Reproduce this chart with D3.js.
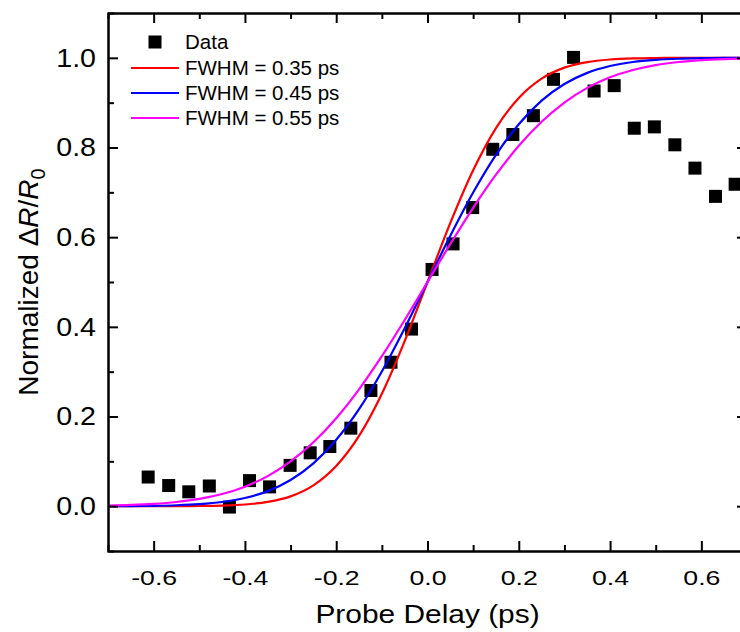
<!DOCTYPE html>
<html>
<head>
<meta charset="utf-8">
<script src="https://cdn.jsdelivr.net/npm/d3@7"></script>
<style>
  body { margin: 0; background: #fff; }
  svg { display: block; font-family: "Liberation Sans", Arial, sans-serif; }
</style>
</head>
<body>
<svg id="chart" width="740" height="632"></svg>
<script>
// measured data points (probe delay in ps, normalized dR/R0)
const delay = [-0.612, -0.567, -0.523, -0.478, -0.434, -0.390, -0.346, -0.301, -0.257, -0.214,
  -0.168, -0.124, -0.080, -0.035, 0.010, 0.056, 0.099, 0.143, 0.187, 0.232,
  0.276, 0.320, 0.365, 0.409, 0.453, 0.497, 0.542, 0.586, 0.631, 0.674];
const signal = [0.065, 0.046, 0.032, 0.045, -0.002, 0.057, 0.043, 0.091, 0.119, 0.133,
  0.174, 0.258, 0.321, 0.395, 0.528, 0.585, 0.666, 0.796, 0.829, 0.871,
  0.952, 1.001, 0.926, 0.938, 0.843, 0.846, 0.806, 0.754, 0.691, 0.718];

// fit curves read at a 0.05 ps spacing
const fitDelay = [-0.70, -0.65, -0.60, -0.55, -0.50, -0.45, -0.40, -0.35, -0.30, -0.25,
  -0.20, -0.15, -0.10, -0.05, 0.00, 0.05, 0.10, 0.15, 0.20, 0.25,
  0.30, 0.35, 0.40, 0.45, 0.50, 0.55, 0.60, 0.65, 0.70];
const fwhm035 = [0, 0, 0, 0.0001, 0.0004, 0.0012, 0.0037, 0.0095, 0.0218, 0.0464,
  0.0895, 0.1566, 0.2508, 0.3683, 0.5, 0.6317, 0.7492, 0.8434, 0.9105, 0.9536,
  0.9782, 0.9905, 0.9963, 0.9988, 0.9996, 0.9999, 1, 1, 1];
const fwhm045 = [0.0001, 0.0003, 0.0008, 0.0020, 0.0045, 0.0093, 0.0182, 0.0336, 0.0584, 0.0955,
  0.1480, 0.2164, 0.3005, 0.3969, 0.5, 0.6031, 0.6995, 0.7836, 0.8520, 0.9045,
  0.9416, 0.9664, 0.9818, 0.9907, 0.9955, 0.9980, 0.9992, 0.9997, 0.9999];
const fwhm055 = [0.0014, 0.0027, 0.0051, 0.0093, 0.0162, 0.0271, 0.0435, 0.0670, 0.0997, 0.1425,
  0.1962, 0.2607, 0.3345, 0.4153, 0.5, 0.5847, 0.6655, 0.7393, 0.8038, 0.8575,
  0.9003, 0.9330, 0.9565, 0.9729, 0.9838, 0.9907, 0.9949, 0.9973, 0.9986];

const seriesNames = ['FWHM = 0.35 ps', 'FWHM = 0.45 ps', 'FWHM = 0.55 ps'];
const seriesColors = ['#ff0000', '#0000ff', '#ff00ff'];

const xMajor = [-0.6, -0.4, -0.2, 0.0, 0.2, 0.4, 0.6];
const xMinor = [-0.5, -0.3, -0.1, 0.1, 0.3, 0.5];
const yMajor = [0.0, 0.2, 0.4, 0.6, 0.8, 1.0];
const yMinor = [0.1, 0.3, 0.5, 0.7, 0.9];

const svg = d3.select('#chart');
const pL = 108, pR = 747, pT = 13, pB = 551;

const x = d3.scaleLinear().domain([-0.7, 0.7]).range([pL, pR]);
const y = d3.scaleLinear().domain([-0.1, 1.1]).range([pB, pT]);

svg.append('clipPath').attr('id', 'plotclip')
  .append('rect').attr('x', pL).attr('y', pT)
  .attr('width', pR - pL).attr('height', pB - pT);

const plot = svg.append('g').attr('clip-path', 'url(#plotclip)');

// data squares
const sq = 13;
plot.selectAll('rect.pt')
  .data(delay.map((d, i) => [d, signal[i]]))
  .join('rect')
  .attr('class', 'pt')
  .attr('x', d => x(d[0]) - sq / 2)
  .attr('y', d => y(d[1]) - sq / 2)
  .attr('width', sq).attr('height', sq)
  .attr('fill', '#000');

// fit lines
const line = d3.line()
  .x((d, i) => x(fitDelay[i]))
  .y(d => y(d))
  .curve(d3.curveMonotoneX);

[fwhm035, fwhm045, fwhm055].forEach((vals, k) => {
  plot.append('path')
    .attr('d', line(vals))
    .attr('fill', 'none')
    .attr('stroke', seriesColors[k])
    .attr('stroke-width', 2.2);
});

// axes, ticks pointing inward
const fmt = v => d3.format('.1f')(v).replace('\u2212', '-');
function styleAxis(g) {
  g.selectAll('path.domain').attr('stroke', '#000').attr('stroke-width', 2);
  g.selectAll('.tick line').attr('stroke', '#000').attr('stroke-width', 2);
}

svg.append('g').attr('transform', `translate(0,${pB})`)
  .call(d3.axisBottom(x).tickValues(xMinor).tickSize(-6).tickFormat(''))
  .call(styleAxis);
svg.append('g').attr('transform', `translate(0,${pB})`)
  .call(d3.axisBottom(x).tickValues(xMajor).tickSize(-10).tickSizeOuter(0).tickPadding(19).tickFormat(fmt))
  .call(styleAxis)
  .call(g => g.selectAll('text').attr('font-size', 21).attr('fill', '#000')
    .attr('transform', 'scale(1.27,1)')
    .attr('font-family', '"Liberation Sans", Arial, sans-serif'));

svg.append('g').attr('transform', `translate(0,${pT})`)
  .call(d3.axisTop(x).tickValues(xMinor).tickSize(-6).tickFormat(''))
  .call(styleAxis);
svg.append('g').attr('transform', `translate(0,${pT})`)
  .call(d3.axisTop(x).tickValues(xMajor).tickSize(-10).tickSizeOuter(0).tickFormat(''))
  .call(styleAxis);

svg.append('g').attr('transform', `translate(${pL},0)`)
  .call(d3.axisLeft(y).tickValues(yMinor).tickSize(-6).tickFormat(''))
  .call(styleAxis);
svg.append('g').attr('transform', `translate(${pL},0)`)
  .call(d3.axisLeft(y).tickValues(yMajor).tickSize(-10).tickSizeOuter(0).tickPadding(12).tickFormat(fmt))
  .call(styleAxis)
  .call(g => g.selectAll('text').attr('font-size', 26).attr('fill', '#000')
    .attr('x', -12 / 1.1).attr('transform', 'scale(1.1,1)')
    .attr('font-family', '"Liberation Sans", Arial, sans-serif'));

svg.append('g').attr('transform', `translate(${pR},0)`)
  .call(d3.axisRight(y).tickValues(yMinor).tickSize(-6).tickFormat(''))
  .call(styleAxis);
svg.append('g').attr('transform', `translate(${pR},0)`)
  .call(d3.axisRight(y).tickValues(yMajor).tickSize(-10).tickSizeOuter(0).tickFormat(''))
  .call(styleAxis);

// axis titles
svg.append('text')
  .attr('transform', `translate(${(pL + pR) / 2},623) scale(1.15,1)`)
  .attr('text-anchor', 'middle').attr('font-size', 26)
  .text('Probe Delay (ps)');

const yTitle = svg.append('text')
  .attr('transform', `translate(38,${(pT + pB) / 2}) rotate(-90)`)
  .attr('text-anchor', 'middle').attr('font-size', 28);
yTitle.append('tspan').text('Normalized \u0394');
yTitle.append('tspan').attr('font-style', 'italic').text('R');
yTitle.append('tspan').text('/');
yTitle.append('tspan').attr('font-style', 'italic').text('R');
yTitle.append('tspan').attr('font-size', 20).attr('dy', 7).text('0');

// legend
const legend = svg.append('g');
legend.append('rect').attr('x', 155 - sq / 2).attr('y', 42 - sq / 2)
  .attr('width', sq).attr('height', sq).attr('fill', '#000');
legend.append('text').attr('x', 185).attr('y', 42).attr('dy', '0.35em')
  .attr('font-size', 20.5).text('Data');
seriesNames.forEach((name, k) => {
  const ly = 68 + k * 25;
  legend.append('line').attr('x1', 131).attr('x2', 179).attr('y1', ly).attr('y2', ly)
    .attr('stroke', seriesColors[k]).attr('stroke-width', 2.2);
  legend.append('text').attr('x', 185).attr('y', ly).attr('dy', '0.35em')
    .attr('font-size', 20.5).text(name);
});
</script>
</body>
</html>
